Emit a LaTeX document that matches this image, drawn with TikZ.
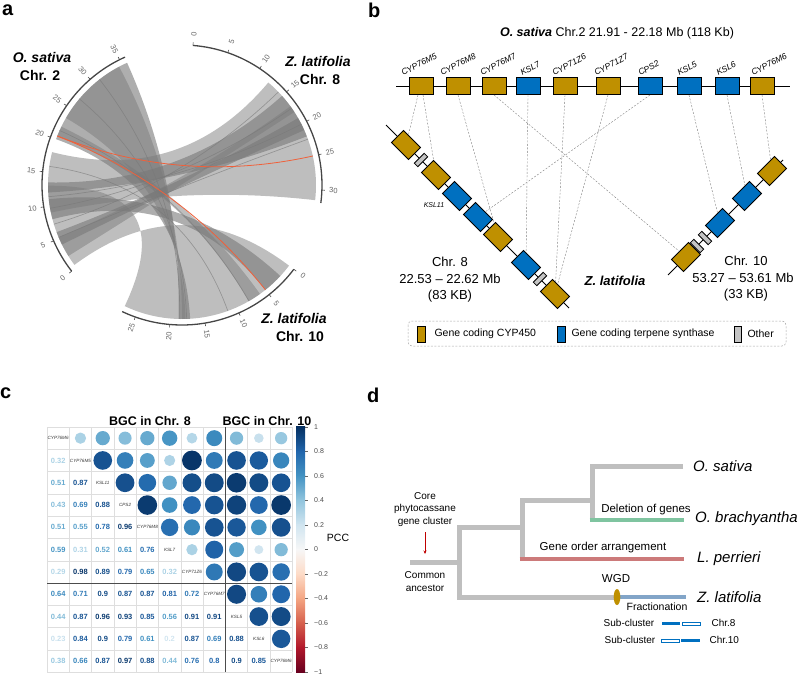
\documentclass[tikz,border=0pt]{standalone}
\usepackage{fontspec}
\setmainfont{Liberation Sans}
\usetikzlibrary{arrows.meta}
\newcommand\fsz[1]{\fontsize{#1}{#1}\selectfont}
\definecolor{cyp}{RGB}{191,144,0}
\definecolor{tps}{RGB}{0,112,192}
\definecolor{oth}{RGB}{196,196,196}
\definecolor{ribgray}{RGB}{120,120,120}
\definecolor{arcgray}{RGB}{70,70,70}
\definecolor{tickgray}{RGB}{100,100,100}
\definecolor{chordred}{RGB}{240,96,58}
\definecolor{gridc}{RGB}{222,222,222}
\definecolor{treeg}{RGB}{191,191,191}
\definecolor{brgreen}{RGB}{127,196,160}
\definecolor{brred}{RGB}{204,122,122}
\definecolor{brblue}{RGB}{130,165,200}
\definecolor{cb0}{HTML}{F7F7F7}
\definecolor{cb1}{HTML}{D1E5F0}
\definecolor{cb2}{HTML}{92C5DE}
\definecolor{cb3}{HTML}{4393C3}
\definecolor{cb4}{HTML}{2166AC}
\definecolor{cb5}{HTML}{053061}
\definecolor{rb0}{HTML}{053061}
\definecolor{rb1}{HTML}{2166AC}
\definecolor{rb2}{HTML}{4393C3}
\definecolor{rb3}{HTML}{92C5DE}
\definecolor{rb4}{HTML}{D1E5F0}
\definecolor{rb5}{HTML}{F7F7F7}
\definecolor{rb6}{HTML}{FDDBC7}
\definecolor{rb7}{HTML}{F4A582}
\definecolor{rb8}{HTML}{D6604D}
\definecolor{rb9}{HTML}{B2182B}
\definecolor{rb10}{HTML}{67001F}
\newcommand\myribbon[5]{\fill[#1] (#2:134) arc[start angle=#2,end angle=#3,radius=134] .. controls (#3:44.7) and (#4:44.7) .. (#4:134) arc[start angle=#4,end angle=#5,radius=134] .. controls (#5:44.7) and (#2:44.7) .. cycle;}
\newcommand\mychord[3]{\draw[#1] (#2:134) .. controls (#2:44.7) and (#3:44.7) .. (#3:134);}
\newcommand\setcc[1]{%
  \pgfmathtruncatemacro\cseg{min(4,floor(#1*5))}%
  \pgfmathtruncatemacro\cnext{\cseg+1}%
  \pgfmathsetmacro\cpct{(#1*5-\cseg)*100}%
  \colorlet{cc}{cb\cnext!\cpct!cb\cseg}}
\begin{document}
\begin{tikzpicture}[x=1pt,y=-1pt,
  plab/.style={font=\bfseries\fsz{20}, anchor=base west, inner sep=0},
  spl/.style={font=\bfseries\itshape\fsz{14}},
  chl/.style={font=\bfseries\fsz{14}},
  ribl/.style={fill=ribgray, fill opacity=0.48},
  ribd/.style={fill=ribgray, fill opacity=0.6},
  chrarc/.style={draw=arcgray, line width=1.3pt},
  ticklab/.style={font=\fsz{7.5}, text=tickgray, inner sep=0},
  redc/.style={draw=chordred, line width=0.8pt},
  strand/.style={draw=ribgray, line width=0.7pt, draw opacity=0.6},
  gene/.style={draw=black, line width=0.9pt, minimum width=24pt, minimum height=17pt, inner sep=0pt},
  cypg/.style={gene, fill=cyp},
  tpsg/.style={gene, fill=tps},
  othg/.style={draw=black, line width=0.8pt, fill=oth, minimum width=5pt, minimum height=14pt, inner sep=0pt},
  glab/.style={font=\itshape\fsz{8.5}, anchor=south west, rotate=28, inner sep=0.5pt},
  hom/.style={draw=gray, line width=0.4pt, dash pattern=on 2pt off 1.5pt},
  btxt/.style={font=\fsz{13}},
  legt/.style={font=\fsz{10.5}, anchor=west},
  numtxt/.style={font=\bfseries\fsz{7.5}, inner sep=0},
  diagl/.style={font=\itshape\fsz{4.6}, text=black!80, inner sep=0},
  gridl/.style={draw=gridc, line width=0.5pt},
  cbl/.style={font=\fsz{7}, text=black!70, anchor=west, inner sep=0},
  tree/.style={draw=treeg, line width=5pt, line join=miter},
  spd/.style={font=\itshape\fsz{15}, anchor=west, inner sep=0},
  dtx/.style={font=\fsz{11.5}},
  stx/.style={font=\fsz{10}}]
\useasboundingbox (0,0) rectangle (800,675);

% ---------------- panel labels
\node[plab] (pa) at (2,15) {a};
\node[plab] (pb) at (368,17) {b};
\node[plab] (pc) at (0,398) {c};
\node[plab] (pd) at (367,402) {d};

% ---------------- panel a : circos
\begin{scope}[shift={(182,185)}, yscale=-1]
  \myribbon{ribl}{216.6}{180.3}{-115.3}{-37}
  \myribbon{ribl}{191.9}{165.8}{49.9}{-6.5}
  \myribbon{ribd}{160}{114.2}{-91.5}{-86.5}
  \myribbon{ribl}{150}{118}{-90}{-88.5}
  \myribbon{ribd}{194.8}{186.1}{-42.8}{-51.5}
  \myribbon{ribd}{183.2}{178.9}{41.7}{21.3}
  \myribbon{ribd}{206.4}{200.6}{30}{24.2}
  \myribbon{ribl}{212}{203}{36}{33}
  \myribbon{ribl}{158.5}{154.2}{-54.4}{-60.2}
  \mychord{strand}{190}{35}
  \mychord{strand}{185}{27}
  \mychord{strand}{203}{20}
  \mychord{strand}{197}{44}
  \mychord{strand}{140}{-88}
  \mychord{strand}{128}{-91}
  \mychord{strand}{156}{-60}
  \mychord{strand}{172}{-70}
  \mychord{redc}{158.55}{12.5}
  \mychord{redc}{158.55}{-51.5}
  \draw[chrarc] (218:140) arc[start angle=218,end angle=114,radius=140];
  \draw[chrarc] (85.5:140) arc[start angle=85.5,end angle=-7.4,radius=140];
  \draw[chrarc] (-37:140) arc[start angle=-37,end angle=-115.3,radius=140];
  \foreach \p in {0,5,...,35}{
    \pgfmathsetmacro\t{218-2.9*\p}
    \pgfmathsetmacro\rt{cos(\t)<0 ? \t+180 : \t}
    \draw[chrarc, line width=0.6pt] (\t:140) -- (\t:143);
    \node[ticklab, rotate=\rt] (ta\p) at (\t:151.5) {\p};}
  \foreach \p in {0,5,...,30}{
    \pgfmathsetmacro\t{85.5-2.92*\p}
    \pgfmathsetmacro\rt{cos(\t)<0 ? \t+180 : \t}
    \draw[chrarc, line width=0.6pt] (\t:140) -- (\t:143);
    \node[ticklab, rotate=\rt] (tb\p) at (\t:151.5) {\p};}
  \foreach \p in {0,5,...,25}{
    \pgfmathsetmacro\t{-37-2.9*\p}
    \pgfmathsetmacro\rt{cos(\t)<0 ? \t+180 : \t}
    \draw[chrarc, line width=0.6pt] (\t:140) -- (\t:143);
    \node[ticklab, rotate=\rt] (tc\p) at (\t:151.5) {\p};}
\end{scope}
\node[spl] (a1) at (42,57) {O. sativa};
\node[chl] (a2) at (40,75) {Chr. 2};
\node[spl] (a3) at (318,61) {Z. latifolia};
\node[chl] (a4) at (320,79) {Chr. 8};
\node[spl] (a5) at (294,318) {Z. latifolia};
\node[chl] (a6) at (300,336) {Chr. 10};

% ---------------- panel b
\node[font=\fsz{12.5}] (btitle) at (617,33) {\textbf{\textit{O. sativa}} Chr.2 21.91 - 22.18 Mb (118 Kb)};
\draw[line width=1pt] (396,86) -- (790,86);
\node[cypg] (t1) at (421,86) {};
\node[cypg] (t2) at (458,86) {};
\node[cypg] (t3) at (494,86) {};
\node[tpsg] (t4) at (528,86) {};
\node[cypg] (t5) at (565,86) {};
\node[cypg] (t6) at (608,86) {};
\node[tpsg] (t7) at (650,86) {};
\node[tpsg] (t8) at (689,86) {};
\node[tpsg] (t9) at (727,86) {};
\node[cypg] (t10) at (762,86) {};
\node[glab] (l1) at (403,77) {CYP76M5};
\node[glab] (l2) at (442,77) {CYP76M8};
\node[glab] (l3) at (482,77) {CYP76M7};
\node[glab] (l4) at (522,77) {KSL7};
\node[glab] (l5) at (554,77) {CYP71Z6};
\node[glab] (l6) at (596,77) {CYP71Z7};
\node[glab] (l7) at (640,77) {CPS2};
\node[glab] (l8) at (679,77) {KSL5};
\node[glab] (l9) at (718,77) {KSL6};
\node[glab] (l10) at (753,77) {CYP76M6};
% chr 8
\draw[line width=1pt] (386,125) -- (569,308);
\node[cypg, rotate=-45] (z1) at (406,145) {};
\node[othg, rotate=-45] (z2) at (421,160) {};
\node[cypg, rotate=-45] (z3) at (436,175) {};
\node[tpsg, rotate=-45] (z4) at (457,196) {};
\node[tpsg, rotate=-45] (z5) at (478,217) {};
\node[cypg, rotate=-45] (z6) at (498,237) {};
\node[tpsg, rotate=-45] (z7) at (526,265) {};
\node[othg, rotate=-45] (z8) at (540,279) {};
\node[cypg, rotate=-45] (z9) at (555,294) {};
\node[font=\itshape\fsz{7}] (ksl11) at (434,205) {KSL11};
% chr 10
\draw[line width=1pt] (668,275) -- (783,160);
\node[cypg, rotate=45] (y1) at (686,257) {};
\node[othg, rotate=45] (y2) at (697,246) {};
\node[othg, rotate=45] (y3) at (705,238) {};
\node[tpsg, rotate=45] (y4) at (720,223) {};
\node[tpsg, rotate=45] (y5) at (747,196) {};
\node[cypg, rotate=45] (y6) at (772,171) {};
% homology lines
\draw[hom] ([xshift=-3pt]t1.south) -- (z1);
\draw[hom] ([xshift=2pt]t1.south) -- (z3);
\draw[hom] (t2.south) -- (z6);
\draw[hom] (t3.south) -- (y1);
\draw[hom] (t4.south) -- (z7);
\draw[hom] (t5.south) -- (z9);
\draw[hom] (t6.south) -- (z9);
\draw[hom] (t7.south) -- (z5);
\draw[hom] (t8.south) -- (y4);
\draw[hom] (t9.south) -- (y5);
\draw[hom] (t10.south) -- (y6);
% texts
\node[btxt] (c8a) at (450,262) {Chr. 8};
\node[btxt] (c8b) at (450,279) {22.53 – 22.62 Mb};
\node[btxt] (c8c) at (450,296) {(83 KB)};
\node[font=\bfseries\itshape\fsz{13}] (zl) at (615,281) {Z. latifolia};
\node[btxt] (c10a) at (746,261) {Chr. 10};
\node[btxt] (c10b) at (743,278) {53.27 – 53.61 Mb};
\node[btxt] (c10c) at (746,295) {(33 KB)};
% legend
\draw[draw=black!35, dash pattern=on 2pt off 1.5pt, rounded corners=4pt, line width=0.5pt] (408,321) rectangle (786,346);
\node[draw=black, line width=0.8pt, fill=cyp, minimum width=8pt, minimum height=16pt, inner sep=0] (lg1) at (421.5,334) {};
\node[legt] (lt1) at (431,334) {Gene coding CYP450};
\node[draw=black, line width=0.8pt, fill=tps, minimum width=8pt, minimum height=16pt, inner sep=0] (lg2) at (561.5,334) {};
\node[legt] (lt2) at (568,334) {Gene coding terpene synthase};
\node[draw=black, line width=0.8pt, fill=oth, minimum width=7pt, minimum height=16pt, inner sep=0] (lg3) at (738,334) {};
\node[legt] (lt3) at (744,334) {Other};

% ---------------- panel c
\node[font=\bfseries\fsz{12.5}] (bgc8) at (150,421) {BGC in Chr. 8};
\node[font=\bfseries\fsz{12.5}] (bgc10) at (267,421) {BGC in Chr. 10};
\foreach \k in {0,...,11}{
  \draw[gridl] ({47+\k*22.3},427) -- ({47+\k*22.3},672.3);
  \draw[gridl] (47,{427+\k*22.3}) -- (292.3,{427+\k*22.3});}
\foreach \i/\j/\v in {2/1/0.32, 3/1/0.51, 3/2/0.87, 4/1/0.43, 4/2/0.69, 4/3/0.88,
  5/1/0.51, 5/2/0.55, 5/3/0.78, 5/4/0.96,
  6/1/0.59, 6/2/0.31, 6/3/0.52, 6/4/0.61, 6/5/0.76,
  7/1/0.29, 7/2/0.98, 7/3/0.89, 7/4/0.79, 7/5/0.65, 7/6/0.32,
  8/1/0.64, 8/2/0.71, 8/3/0.9, 8/4/0.87, 8/5/0.87, 8/6/0.81, 8/7/0.72,
  9/1/0.44, 9/2/0.87, 9/3/0.96, 9/4/0.93, 9/5/0.85, 9/6/0.56, 9/7/0.91, 9/8/0.91,
  10/1/0.23, 10/2/0.84, 10/3/0.9, 10/4/0.79, 10/5/0.61, 10/6/0.2, 10/7/0.87, 10/8/0.69, 10/9/0.88,
  11/1/0.38, 11/2/0.66, 11/3/0.87, 11/4/0.97, 11/5/0.88, 11/6/0.44, 11/7/0.76, 11/8/0.8, 11/9/0.9, 11/10/0.85}{
  \setcc{\v}
  \node[numtxt, text=cc] (n\i-\j) at ({47+(\j-0.5)*22.3},{427+(\i-0.5)*22.3}) {\v};
  \fill[cc] ({47+(\i-0.5)*22.3},{427+(\j-0.5)*22.3}) circle[radius={10*sqrt(\v)}];}
\foreach \i/\nm in {1/CYP76M6, 2/CYP76M5, 3/KSL11, 4/CPS2, 5/CYP76M8, 6/KSL7, 7/CYP71Z6, 8/CYP76M7, 9/KSL5, 10/KSL6, 11/CYP76M6}{
  \node[diagl] (d\i) at ({47+(\i-0.5)*22.3},{427+(\i-0.5)*22.3}) {\nm};}
\draw[draw=black!70, line width=1.2pt] (225.4,427) -- (225.4,672.3);
\draw[draw=black!70, line width=1.2pt] (47,583.1) -- (292.3,583.1);
% colour bar
\foreach \k in {0,...,9}{
  \pgfmathtruncatemacro\kk{\k+1}
  \shade[top color=rb\k, bottom color=rb\kk] (296,{427+\k*24.5-0.2}) rectangle (305,{427+(\k+1)*24.5+0.2});}
\foreach \v/\tx in {1/1, 0.8/0.8, 0.6/0.6, 0.4/0.4, 0.2/0.2, 0/0, -0.2/−0.2, -0.4/−0.4, -0.6/−0.6, -0.8/−0.8, -1/−1}{
  \draw[black!60, line width=0.4pt] (305,{427+(1-\v)*122.5}) -- (307.5,{427+(1-\v)*122.5});
  \node[cbl] at (314,{427+(1-\v)*122.5}) {\tx};}
\node[font=\fsz{10.5}] (pcc) at (338,538) {PCC};

% ---------------- panel d
\draw[tree] (410,562) -- (459,562);
\draw[tree] (522,527) -- (459,527) -- (459,597) -- (617,597);
\draw[tree] (592,500) -- (522,500) -- (522,557);
\draw[tree] (683,466) -- (592,466) -- (592,518);
\draw[draw=brgreen, line width=3.5pt] (589.5,520) -- (684,520);
\draw[draw=brred, line width=3.5pt] (519.5,559) -- (684,559);
\draw[draw=brblue, line width=3.5pt] (617,597) -- (686,597);
\fill[cyp] (617,597) ellipse[x radius=3.3, y radius=8];
\node[spd] (s1) at (693,466) {O. sativa};
\node[spd] (s2) at (695,519) {O. brachyantha};
\node[spd] (s3) at (697,559) {L. perrieri};
\node[spd] (s4) at (697,597) {Z. latifolia};
\node[dtx] (e1) at (646,510) {Deletion of genes};
\node[dtx] (e2) at (603,548) {Gene order arrangement};
\node[dtx] (e3) at (616,579) {WGD};
\node[font=\fsz{10.5}] (e4) at (657,607) {Fractionation};
\node[stx] (k1) at (425,496) {Core};
\node[stx] (k2) at (425,509) {phytocassane};
\node[stx] (k3) at (425,522) {gene cluster};
\coordinate (ar1) at (425,532);
\coordinate (ar2) at (425,554);
\draw[-{Stealth[length=3.5pt,width=3pt]}, draw=red!75!black, line width=0.6pt] (ar1) -- (ar2);
\node[stx] (k4) at (425,575) {Common};
\node[stx] (k5) at (425,588) {ancestor};
\node[stx] (sc1) at (629,623) {Sub-cluster};
\node[stx] (sc2) at (630,640) {Sub-cluster};
\fill[tps] (662,621.5) rectangle (680,625);
\draw[draw=tps, line width=0.6pt] (682,621.8) rectangle (700,624.8);
\draw[draw=tps, line width=0.6pt] (661,638.8) rectangle (679,641.8);
\fill[tps] (681,638.5) rectangle (700,642);
\node[stx, anchor=west] (ch8) at (708,623) {Chr.8};
\node[stx, anchor=west] (ch10) at (706,640) {Chr.10};
\end{tikzpicture}
\end{document}
